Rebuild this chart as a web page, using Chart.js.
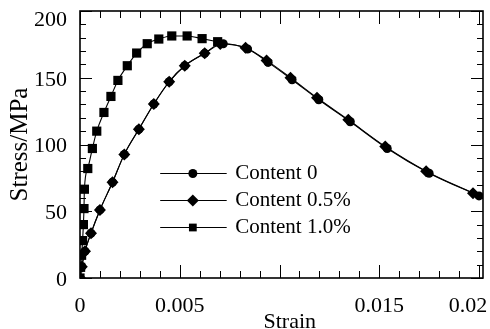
<!DOCTYPE html>
<html><head><meta charset="utf-8">
<script src="https://cdn.jsdelivr.net/npm/chart.js@4"></script>
<style>html,body{margin:0;padding:0;background:#fff}#wrap{width:490px;height:329px;position:relative}</style>
</head><body><div id="wrap"><canvas id="c"></canvas></div>
<script>
// ---- data ----
const seriesLabels = ['Content 0', 'Content 0.5%', 'Content 1.0%'];

const strainC0  = [0, 0.00009, 0.00025, 0.00055, 0.001, 0.00163, 0.00222, 0.00295, 0.0037, 0.00447, 0.00525, 0.00625, 0.00718, 0.0084, 0.00943, 0.01063, 0.01197, 0.01355, 0.0154, 0.0175, 0.02];
const stressC0  = [0, 8.5, 20, 33.5, 51, 71.7, 92.6, 111.4, 130.3, 147, 159, 168.3, 175.5, 171.5, 161.5, 148.5, 133.5, 117, 97, 78.5, 61.5];

const strainC05 = [0, 0.00009, 0.00025, 0.00055, 0.001, 0.00163, 0.00222, 0.00295, 0.0037, 0.00447, 0.00525, 0.00625, 0.00703, 0.0083, 0.00935, 0.01055, 0.01188, 0.01345, 0.0153, 0.01735, 0.0197];
const stressC05 = [0, 8.5, 20, 33.5, 51, 71.7, 92.6, 111.4, 130.3, 147, 159, 168.3, 175.3, 172.5, 163, 150, 135, 118.5, 98.5, 80, 63.5];

const strainC10 = [0, 0.00003, 0.00008, 0.00013, 0.00017, 0.0002, 0.00022, 0.00039, 0.00062, 0.00084, 0.0012, 0.00155, 0.0019, 0.00237, 0.00284, 0.00337, 0.00395, 0.0046, 0.00537, 0.00612, 0.0069];
const stressC10 = [0, 8, 17, 28, 40, 52, 66.5, 82, 97, 110, 124, 136, 148, 159, 168.5, 175.5, 179, 181.3, 181.3, 179.3, 177];

const xTickValues = [0, 0.005, 0.015, 0.02];
const xTickLabels = ['0', '0.005', '0.015', '0.02\u2003'];
const yTickValues = [0, 50, 100, 150, 200];
const yTickLabels = ['0', '50', '100', '150', ['', '200']];
const xMinorStep = 0.001, xMajorStep = 0.005;
const yMinorStep = 10, yMajorStep = 50;

// ---- chart ----
const SERIF = "'Liberation Serif', 'Times New Roman', serif";
const toPts = (xs, ys) => xs.map((x, i) => ({x, y: ys[i]}));
const styles = [
  {pointStyle: 'circle', radius: 4.5, legendRadius: 4.5},
  {pointStyle: 'rectRot', radius: 6, legendRadius: 6},
  {pointStyle: 'rect', radius: 6.5, legendRadius: 5.5}
];
const seriesData = [toPts(strainC0, stressC0), toPts(strainC05, stressC05), toPts(strainC10, stressC10)];

const datasets = seriesLabels.map((label, i) => ({
  label,
  data: seriesData[i],
  borderColor: '#000',
  backgroundColor: '#000',
  borderWidth: 1.1,
  pointStyle: styles[i].pointStyle,
  pointRadius: styles[i].radius,
  pointBorderWidth: 0,
  pointBackgroundColor: '#000',
  cubicInterpolationMode: 'monotone',
  clip: 0
}));

const frameTicks = {
  id: 'frameTicks',
  afterDatasetsDraw(chart) {
    const {ctx, chartArea: a, scales: {x, y}} = chart;
    ctx.save();
    ctx.strokeStyle = '#000';
    ctx.lineWidth = 1;
    const n = Math.round((x.max - x.min) / xMinorStep);
    for (let k = 0; k <= n; k++) {
      const v = x.min + k * xMinorStep;
      if (v > x.max) break;
      const px = Math.round(x.getPixelForValue(v)) + 0.5;
      const major = Math.abs(v / xMajorStep - Math.round(v / xMajorStep)) < 1e-6;
      const L = major ? 13 : 7;
      ctx.beginPath();
      ctx.moveTo(px, a.bottom); ctx.lineTo(px, a.bottom - L);
      ctx.moveTo(px, a.top); ctx.lineTo(px, a.top + L);
      ctx.stroke();
    }
    for (let v = y.min; v <= y.max + 1e-9; v += yMinorStep) {
      const py = Math.round(y.getPixelForValue(v)) + 0.5;
      const major = Math.abs(v / yMajorStep - Math.round(v / yMajorStep)) < 1e-6;
      const L = major ? 12 : 6;
      ctx.beginPath();
      ctx.moveTo(a.left, py); ctx.lineTo(a.left + L, py);
      ctx.moveTo(a.right, py); ctx.lineTo(a.right - L, py);
      ctx.stroke();
    }
    ctx.lineWidth = 1.6;
    ctx.strokeRect(a.left, a.top, a.right - a.left, a.bottom - a.top);
    ctx.restore();
  }
};

const lineLegend = {
  id: 'lineLegend',
  afterDraw(chart) {
    const {ctx, chartArea: a} = chart;
    const w = a.right - a.left, h = a.bottom - a.top;
    const x0 = a.left + 0.199 * w, x1 = a.left + 0.364 * w, xm = a.left + 0.280 * w, xt = a.left + 0.385 * w;
    const rows = [0.608, 0.708, 0.808];
    ctx.save();
    chart.data.datasets.forEach((ds, i) => {
      const yy = Math.round(a.top + rows[i] * h) + 0.5;
      ctx.strokeStyle = '#000';
      ctx.lineWidth = 1;
      ctx.beginPath(); ctx.moveTo(x0, yy); ctx.lineTo(x1, yy); ctx.stroke();
      ctx.fillStyle = '#000';
      Chart.helpers.drawPoint(ctx, {pointStyle: styles[i].pointStyle, radius: styles[i].legendRadius, rotation: 0, borderWidth: 0}, xm, yy);
      ctx.fillStyle = '#000';
      ctx.font = '21px ' + SERIF;
      ctx.textAlign = 'left';
      ctx.textBaseline = 'middle';
      ctx.fillText(ds.label, xt, yy);
    });
    ctx.restore();
  }
};

new Chart(document.getElementById('c'), {
  type: 'line',
  data: {datasets},
  options: {
    responsive: true,
    maintainAspectRatio: false,
    animation: false,
    events: [],
    layout: {padding: {top: 11, right: 7, bottom: 0, left: 0}},
    plugins: {legend: {display: false}, tooltip: {enabled: false}},
    scales: {
      x: {
        type: 'linear', position: 'bottom', min: 0, max: 0.0202,
        grid: {display: false}, border: {display: false},
        afterBuildTicks: s => { s.ticks = xTickValues.map(v => ({value: v})); },
        afterFit: s => { s.paddingLeft = 0; s.paddingRight = 0; s.height = 51; },
        ticks: {color: '#000', font: {family: SERIF, size: 22}, padding: 7, maxRotation: 0, autoSkip: false,
          callback: (v, i) => xTickLabels[i]},
        title: {display: true, text: '\u2002 Strain', color: '#000', font: {family: SERIF, size: 22, lineHeight: 0.6}, padding: 0}
      },
      y: {
        type: 'linear', min: 0, max: 200,
        grid: {display: false}, border: {display: false},
        afterBuildTicks: s => { s.ticks = yTickValues.map(v => ({value: v})); },
        afterFit: s => { s.width = 80; s.paddingTop = 0; s.paddingBottom = 0; },
        ticks: {color: '#000', font: {family: SERIF, size: 22, lineHeight: 0.7}, padding: 5, labelOffset: 2,
          callback: (v, i) => yTickLabels[i]},
        title: {display: true, text: 'Stress/MPa', color: '#000', font: {family: SERIF, size: 25}, padding: {top: 5, bottom: 0}}
      }
    }
  },
  plugins: [frameTicks, lineLegend]
});
</script>
</body></html>
